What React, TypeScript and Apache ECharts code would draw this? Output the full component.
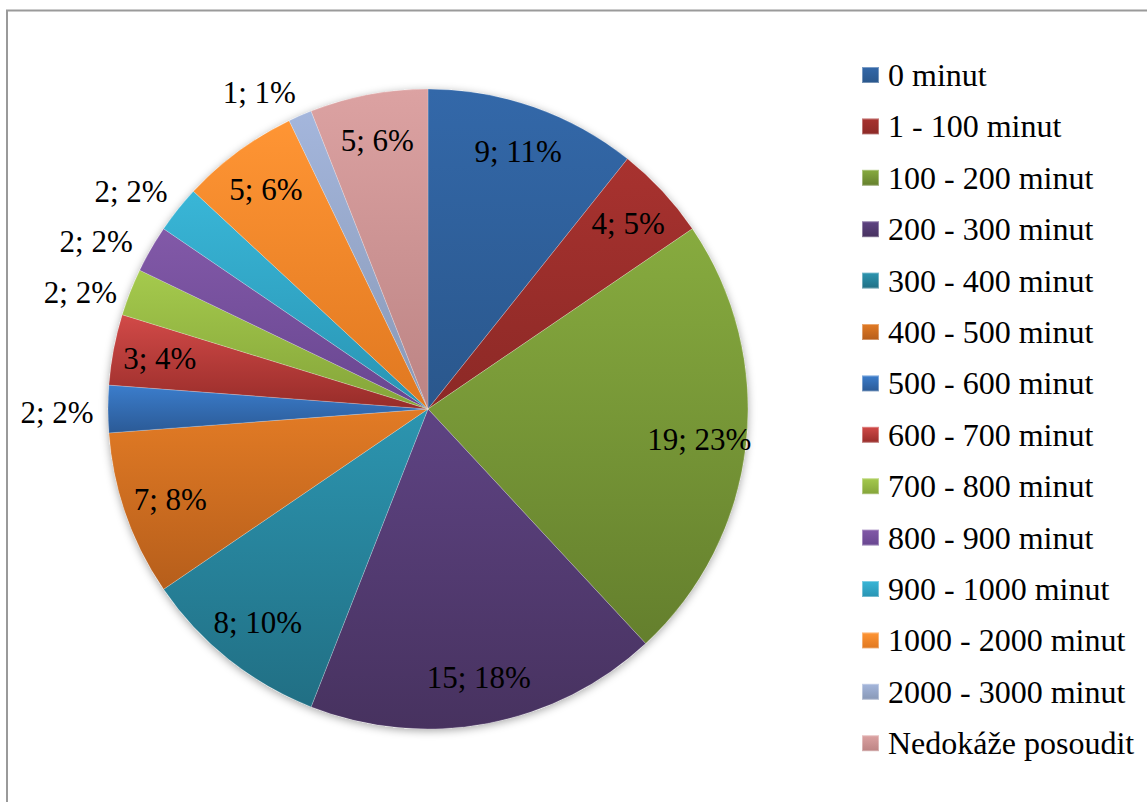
import React, { useEffect, useRef } from "react";
import * as echarts from "echarts";

const categories = [
  "0 minut",
  "1 - 100 minut",
  "100 - 200 minut",
  "200 - 300 minut",
  "300 - 400 minut",
  "400 - 500 minut",
  "500 - 600 minut",
  "600 - 700 minut",
  "700 - 800 minut",
  "800 - 900 minut",
  "900 - 1000 minut",
  "1000 - 2000 minut",
  "2000 - 3000 minut",
  "Nedokáže posoudit",
];

const counts = [9, 4, 19, 15, 8, 7, 2, 3, 2, 2, 2, 5, 1, 5];

// which labels sit outside the pie
const outsideLabel = [false, false, false, false, false, false, true, false, true, true, true, false, true, false];
// small nudges of the outside labels (px), as Excel moves them
const outsideNudge: Record<number, [number, number]> = {
  6: [-4, 3],
  8: [-6, 18],
  9: [-14, 16],
  10: [-10, 11],
  12: [-22, 20],
};

const topColors = [
  "#3368a9", "#a8322f", "#87ab3f", "#5e4383", "#2c95b0", "#e27b25", "#3b7dcc",
  "#d24a48", "#a5ca4d", "#8259a8", "#39b6d7", "#ff9534", "#a4b6dc", "#dca2a2",
];
const bottomColors = [
  "#2a578c", "#8c2926", "#647f2d", "#47325f", "#216f84", "#b65e1b", "#2b5a96",
  "#972c29", "#84a439", "#684690", "#2994b3", "#e07820", "#8898b6", "#bc8484",
];

const FONT = "Liberation Serif";
const CENTER = [428, 409];
const R = 320;

export default function App() {
  const ref = useRef<HTMLDivElement>(null);

  useEffect(() => {
    if (!ref.current) return;
    const chart = echarts.init(ref.current, null, { renderer: "svg" });
    const total = counts.reduce((a, b) => a + b, 0);
    const pct = (v: number) => Math.round((v / total) * 100);

    const mainData = categories.map((name, i) => ({
      name,
      value: counts[i],
      itemStyle: {
        color: new echarts.graphic.LinearGradient(0, 0, 0, 1, [
          { offset: 0, color: topColors[i] },
          { offset: 1, color: bottomColors[i] },
        ]),
      },
    }));

    const labelData = (inside: boolean) =>
      categories.map((name, i) => ({
        name,
        value: counts[i],
        label: {
          show: inside ? !outsideLabel[i] : outsideLabel[i],
          offset: !inside && outsideNudge[i] ? outsideNudge[i] : [0, 0],
        },
      }));

    const labelStyle = {
      position: "inside",
      fontFamily: FONT,
      fontSize: 31,
      color: "#000",
      formatter: (p: any) => `${p.value}; ${pct(p.value)}%`,
    };

    chart.setOption({
      animation: false,
      backgroundColor: "#fff",
      graphic: [
        {
          type: "rect",
          shape: { x: 7, y: 10.5, width: 1300, height: 1000 },
          style: { fill: "none", stroke: "#9a9a9a", lineWidth: 2 },
          silent: true,
        },
      ],
      legend: {
        orient: "vertical",
        left: 861,
        top: 59,
        padding: 0,
        data: categories,
        icon: "rect",
        itemWidth: 17,
        itemHeight: 16,
        itemGap: 19.4,
        selectedMode: false,
        textStyle: {
          fontFamily: FONT,
          fontSize: 32,
          lineHeight: 32,
          color: "#000",
          padding: [0, 0, 0, 4],
        },
      },
      series: [
        {
          type: "pie",
          name: "main",
          center: CENTER,
          radius: R,
          startAngle: 90,
          clockwise: true,
          label: { show: false },
          labelLine: { show: false },
          itemStyle: { borderColor: "rgba(255,255,255,0.35)", borderWidth: 0.6 },
          emphasis: { disabled: true },
          data: mainData,
          z: 3,
        },
        {
          type: "pie",
          name: "shadow",
          center: CENTER,
          radius: R,
          silent: true,
          label: { show: false },
          labelLine: { show: false },
          itemStyle: {
            color: "#ffffff",
            shadowBlur: 8,
            shadowColor: "rgba(0,0,0,0.35)",
            shadowOffsetY: 2,
          },
          data: [{ name: "__shadow", value: 1 }],
          z: 1,
        },
        {
          type: "pie",
          name: "insideLabels",
          center: CENTER,
          radius: [220, R],
          startAngle: 90,
          clockwise: true,
          silent: true,
          avoidLabelOverlap: false,
          itemStyle: { color: "rgba(0,0,0,0)" },
          label: labelStyle,
          labelLine: { show: false },
          emphasis: { disabled: true },
          data: labelData(true),
          z: 5,
        },
        {
          type: "pie",
          name: "outsideLabels",
          center: CENTER,
          radius: [330, 398],
          startAngle: 90,
          clockwise: true,
          silent: true,
          avoidLabelOverlap: false,
          itemStyle: { color: "rgba(0,0,0,0)" },
          label: labelStyle,
          labelLine: { show: false },
          emphasis: { disabled: true },
          data: labelData(false),
          z: 5,
        },
      ],
    });

    return () => chart.dispose();
  }, []);

  return (
    <div
      ref={ref}
      style={{ position: "fixed", left: 0, top: 0, width: 1147, height: 802 }}
    />
  );
}
